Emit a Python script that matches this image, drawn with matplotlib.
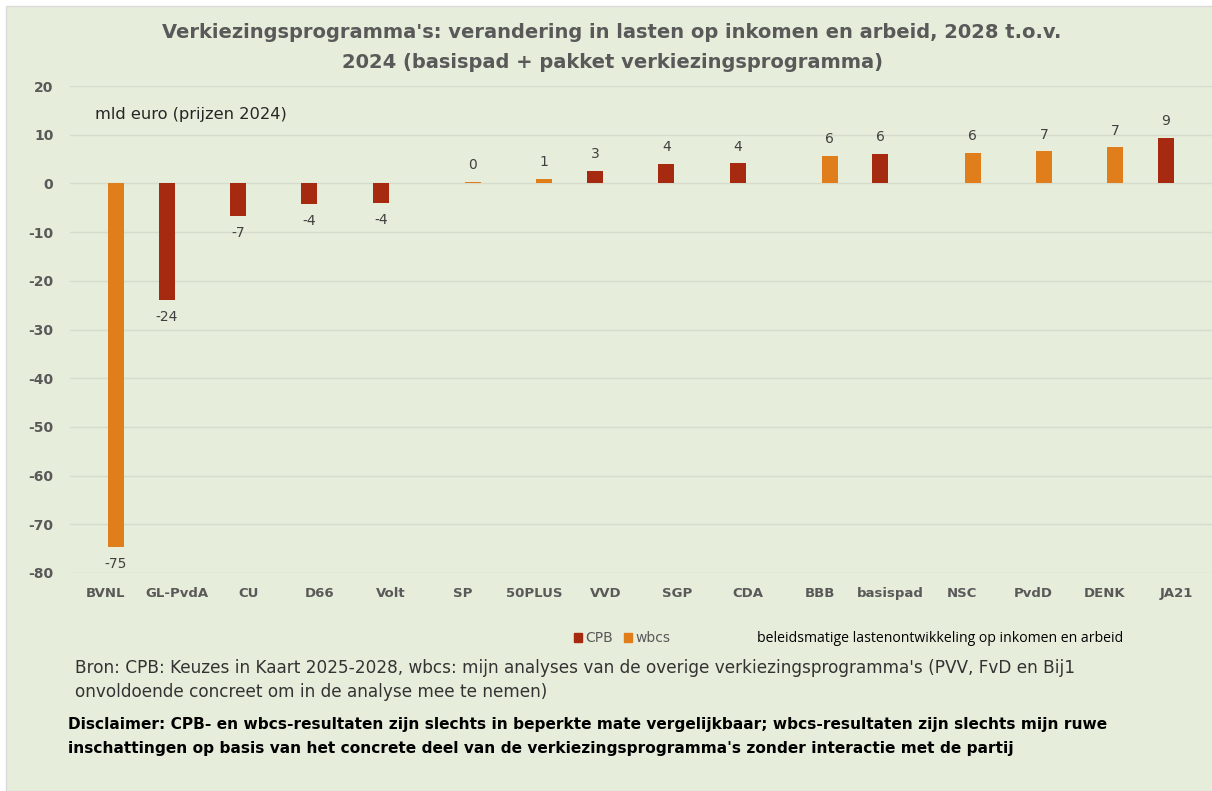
import numpy as np
import matplotlib
matplotlib.use("Agg")
import matplotlib.pyplot as plt
from matplotlib.patches import Patch, Rectangle

# data (mld euro, prijzen 2024)
parties = ['BVNL', 'GL-PvdA', 'CU', 'D66', 'Volt', 'SP', '50PLUS', 'VVD', 'SGP',
           'CDA', 'BBB', 'basispad', 'NSC', 'PvdD', 'DENK', 'JA21']
values = [-74.7, -24.0, -6.7, -4.2, -4.0, 0.3, 0.9, 2.6, 4.0,
          4.1, 5.6, 6.0, 6.3, 6.6, 7.4, 9.4]
source = ['wbcs', 'CPB', 'CPB', 'CPB', 'CPB', 'wbcs', 'wbcs', 'CPB', 'CPB',
          'CPB', 'wbcs', 'CPB', 'wbcs', 'wbcs', 'wbcs', 'CPB']
yticks = [-80, -70, -60, -50, -40, -30, -20, -10, 0, 10, 20]

BG = '#E7EDDB'
RED = '#A52A0F'
ORANGE = '#E07E1B'
GREY = '#595959'

fig = plt.figure(figsize=(12.12, 7.91), dpi=100, facecolor='white')
fig.patches.append(Rectangle((6 / 1212, 0), 1, 1 - 6 / 791, transform=fig.transFigure,
                             facecolor=BG, edgecolor='#D9D9D9', lw=1, zorder=-10))

ax = fig.add_axes([70 / 1212, 1 - 573 / 791, 1 - 70 / 1212, (573 - 86) / 791])
ax.set_facecolor('none')
ax.set_zorder(5)

x = np.arange(len(parties))
w = 0.225
off = 0.145
for i, (v, s) in enumerate(zip(values, source)):
    xpos = x[i] - off if s == 'CPB' else x[i] + off
    col = RED if s == 'CPB' else ORANGE
    ax.bar(xpos, v, width=w, color=col, zorder=3)
    lab = str(int(round(v)))
    if v >= 0:
        ax.annotate(lab, (xpos, v), xytext=(0, 7), textcoords='offset points',
                    ha='center', va='bottom', fontsize=10, color='#404040')
    else:
        ax.annotate(lab, (xpos, v), xytext=(0, -7), textcoords='offset points',
                    ha='center', va='top', fontsize=10, color='#404040')

ax.set_xlim(-0.5, len(parties) - 0.5)
ax.set_ylim(-80, 20)
ax.set_yticks(yticks)
ax.set_yticklabels([str(t) for t in yticks], fontsize=10, fontweight='bold', color=GREY)
ax.set_xticks(x)
ax.set_xticklabels(parties, fontsize=9.5, fontweight='bold', color=GREY)
ax.tick_params(axis='both', length=0)
ax.tick_params(axis='y', pad=12)
ax.tick_params(axis='x', pad=10)
ax.grid(axis='y', color='#D6DBCC', lw=1, zorder=0)
for sp in ax.spines.values():
    sp.set_visible(False)

ax.text(25 / 1142, (573 - 115) / 487, 'mld euro (prijzen 2024)', transform=ax.transAxes,
        fontsize=11.7, color='#262626', va='center', ha='left')

fig.text(0.505, 1 - 33 / 791, "Verkiezingsprogramma's: verandering in lasten op inkomen en arbeid, 2028 t.o.v.",
         ha='center', va='center', fontsize=14, fontweight='bold', color=GREY)
fig.text(0.505, 1 - 62 / 791, "2024 (basispad + pakket verkiezingsprogramma)",
         ha='center', va='center', fontsize=14, fontweight='bold', color=GREY)

handles = [Patch(color=RED, label='CPB'), Patch(color=ORANGE, label='wbcs')]
fig.legend(handles=handles, loc='center', bbox_to_anchor=(622 / 1212, 1 - 638 / 791), ncol=2,
           frameon=False, fontsize=10, handlelength=0.6, handleheight=0.6, handletextpad=0.2,
           columnspacing=0.8, labelcolor=GREY)

fig.text(757 / 1212, 1 - 638 / 791, 'beleidsmatige lastenontwikkeling op inkomen en arbeid',
         ha='left', va='center', fontsize=10.1, family='Open Sans', color='black')

fig.text(75 / 1212, 1 - 668 / 791,
         "Bron: CPB: Keuzes in Kaart 2025-2028, wbcs: mijn analyses van de overige verkiezingsprogramma's (PVV, FvD en Bij1",
         ha='left', va='center', fontsize=12.2, color='#333333')
fig.text(75 / 1212, 1 - 692 / 791,
         "onvoldoende concreet om in de analyse mee te nemen)",
         ha='left', va='center', fontsize=12.2, color='#333333')
fig.text(68 / 1212, 1 - 724 / 791,
         "Disclaimer: CPB- en wbcs-resultaten zijn slechts in beperkte mate vergelijkbaar; wbcs-resultaten zijn slechts mijn ruwe",
         ha='left', va='center', fontsize=11.05, fontweight='bold', color='black')
fig.text(68 / 1212, 1 - 748 / 791,
         "inschattingen op basis van het concrete deel van de verkiezingsprogramma's zonder interactie met de partij",
         ha='left', va='center', fontsize=11.05, fontweight='bold', color='black')

fig.savefig('out.png', dpi=100, facecolor=fig.get_facecolor())
